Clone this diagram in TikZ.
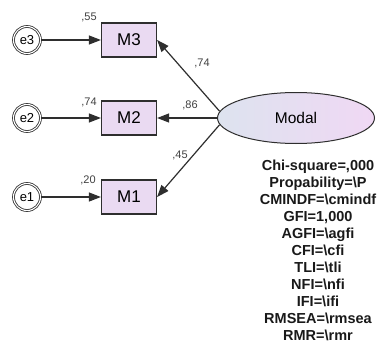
\documentclass[tikz,border=0pt]{standalone}
\usepackage{fontspec}
\setmainfont{Liberation Sans}
\usetikzlibrary{shapes.geometric,arrows.meta}
\definecolor{boxfill}{HTML}{EADAF2}
\definecolor{ellL}{HTML}{DDE3EF}
\definecolor{ellR}{HTML}{F0D8F4}
\definecolor{linec}{HTML}{2E2E2E}
\begin{document}
\begin{tikzpicture}[x=1pt,y=-1pt,
  errnode/.style={circle,draw=linec,double=white,double distance=1.1pt,line width=0.8pt,minimum size=27pt,inner sep=0pt,font=\fontsize{13}{13}\selectfont},
  obsbox/.style={rectangle,draw=linec,line width=1.2pt,fill=boxfill,minimum width=55pt,minimum height=34pt,font=\fontsize{17}{17}\selectfont},
  latent/.style={ellipse,draw=linec,line width=1pt,left color=ellL,right color=ellR,minimum width=157pt,minimum height=51pt,inner sep=0pt,font=\fontsize{15.5}{15.5}\selectfont},
  regarrow/.style={draw=linec,line width=1.2pt,-{Triangle[length=12pt,width=9pt]}},
  coef/.style={font=\fontsize{11}{11}\selectfont,text=black!75,inner sep=0pt},
  fitstats/.style={font=\bfseries\fontsize{14.5}{17}\selectfont,align=center,text=black!90,inner sep=0pt}
]
\useasboundingbox (0,0) rectangle (380,345);
\node[errnode] (e3) at (27,40) {e3};
\node[errnode] (e2) at (27,118) {e2};
\node[errnode] (e1) at (27,197) {e1};
\node[obsbox] (M3) at (129,40) {M3};
\node[obsbox] (M2) at (129,118) {M2};
\node[obsbox] (M1) at (129,197) {M1};
\node[latent] (Modal) at (296,118) {Modal};
\draw[regarrow] (e3) -- (M3);
\draw[regarrow] (e2) -- (M2);
\draw[regarrow] (e1) -- (M1);
\draw[regarrow] (Modal.175) -- (M3.east);
\draw[regarrow] (Modal.west) -- (M2);
\draw[regarrow] (Modal.185) -- (M1.east);
\node[coef] (c55) at (89,17) {,55};
\node[coef] (c74a) at (89,102) {,74};
\node[coef] (c20) at (88,180) {,20};
\node[coef] (c74b) at (202,63) {,74};
\node[coef] (c86) at (190,105) {,86};
\node[coef] (c45) at (180,155) {,45};
\node[fitstats] (fit) at (318,250) {Chi-square=,000\\Propability=\textbackslash P\\CMINDF=\textbackslash cmindf\\GFI=1,000\\AGFI=\textbackslash agfi\\CFI=\textbackslash cfi\\TLI=\textbackslash tli\\NFI=\textbackslash nfi\\IFI=\textbackslash ifi\\RMSEA=\textbackslash rmsea\\RMR=\textbackslash rmr};
\end{tikzpicture}
\end{document}
